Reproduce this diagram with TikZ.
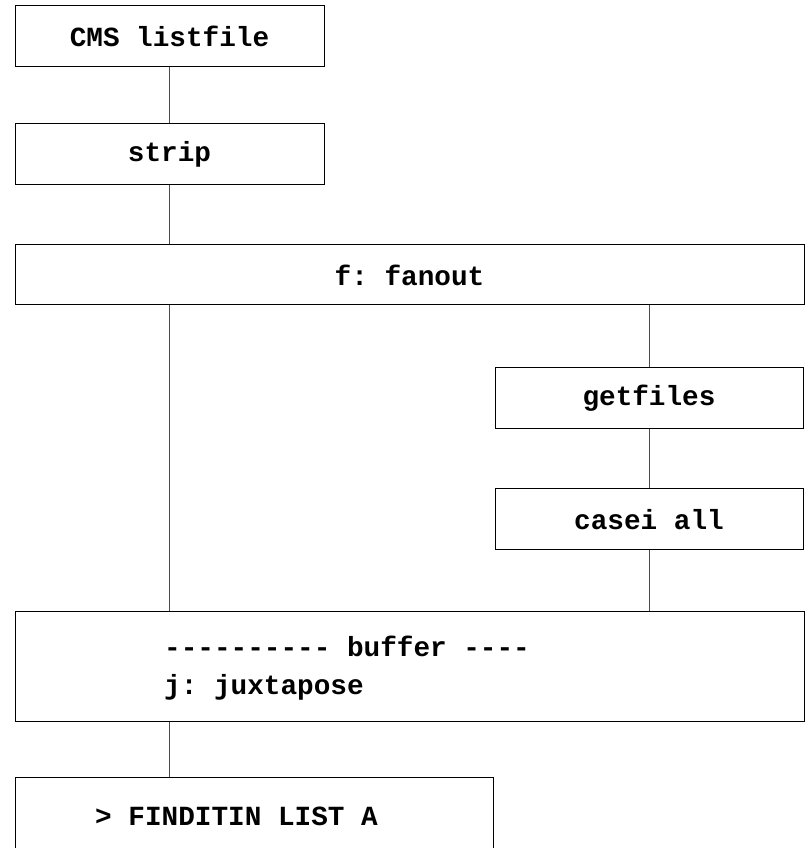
\documentclass[tikz,border=0pt]{standalone}
\usepackage{fontspec}
\newfontfamily\courbold{Liberation Mono}[BoldFont={Liberation Mono Bold}]
\frenchspacing
\begin{document}
\begin{tikzpicture}[x=1pt,y=1pt,
  box/.style={draw=black,line width=1pt,inner sep=0pt,fill=white,
    font=\courbold\bfseries\fontsize{27.7}{38}\selectfont},
  lbl/.style={inner sep=0pt,anchor=base west,
    font=\courbold\bfseries\fontsize{27.7}{38}\selectfont},
  conn/.style={draw=black!70,line width=1pt}]
\useasboundingbox (0,0) rectangle (808,848);
\clip (0,0) rectangle (808,848);
\fill[white] (0,0) rectangle (808,848);
\node[box,minimum width=309,minimum height=61] (b1) at (169.5,811.5) {CMS listfile};
\node[box,minimum width=309,minimum height=61] (b2) at (169.5,693.5) {strip};
\node[box,minimum width=789,minimum height=60] (b3) at (409.5,573) {f: fanout};
\node[box,minimum width=308,minimum height=61] (b4) at (649,449.5) {getfiles};
\node[box,minimum width=308,minimum height=61] (b5) at (649,328.5) {casei all};
\node[box,minimum width=789,minimum height=110] (b6) at (409.5,181) {};
\node[box,minimum width=478,minimum height=122] (b7) at (254,9) {};
\node[lbl] (t6a) at (164,191) {---------- buffer ----};
\node[lbl] (t6b) at (164,153) {j: juxtapose};
\node[lbl] (t7) at (95,23) {> FINDITIN LIST A};
\coordinate (lx) at (169,0);
\draw[conn] (b1.south) -- (b2.north);
\draw[conn] (b2.south) -- (b2.south |- b3.north);
\draw[conn] (lx |- b3.south) -- (lx |- b6.north);
\draw[conn] (b4.north |- b3.south) -- (b4.north);
\draw[conn] (b4.south) -- (b5.north);
\draw[conn] (b5.south) -- (b5.south |- b6.north);
\draw[conn] (lx |- b6.south) -- (lx |- b7.north);
\end{tikzpicture}
\end{document}
